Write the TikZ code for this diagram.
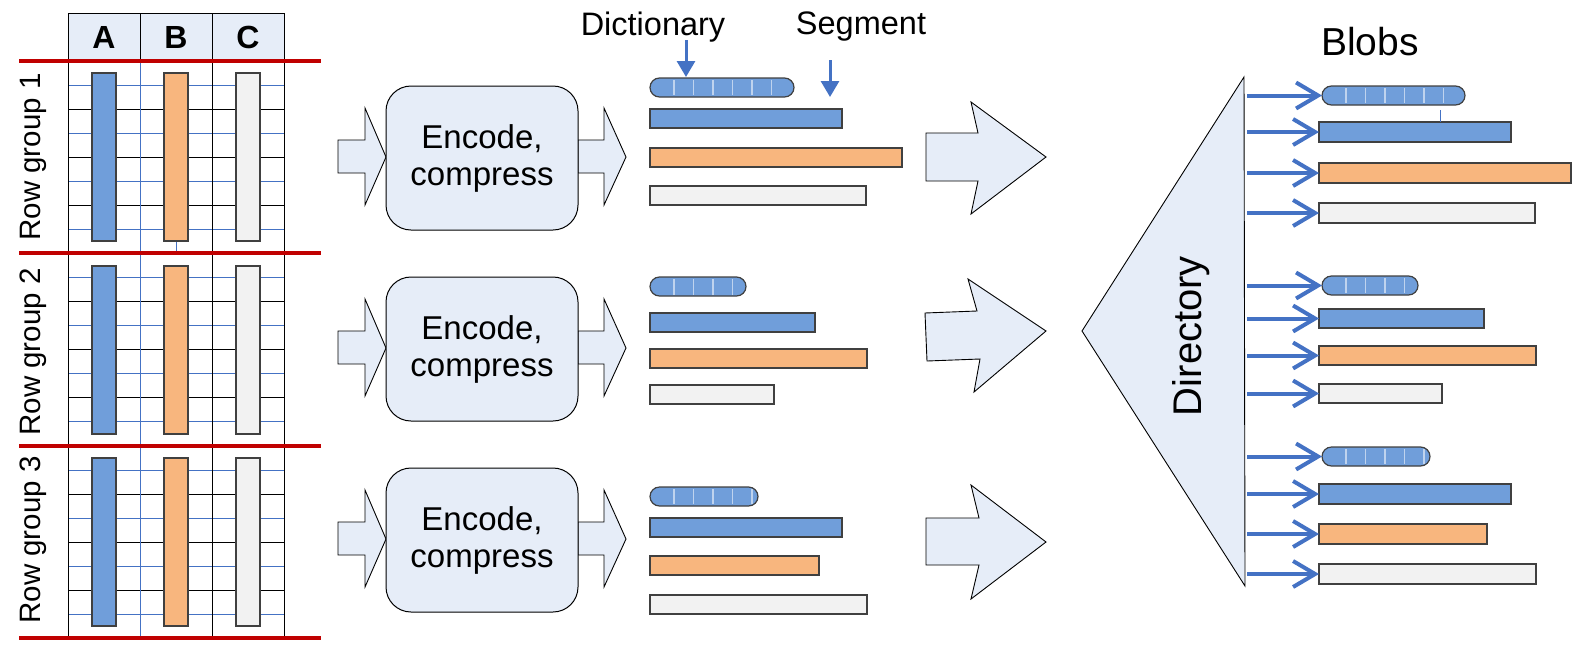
\documentclass[tikz,border=0pt]{standalone}
\usepackage{fontspec}
\setmainfont{Liberation Sans}
\usetikzlibrary{arrows.meta}
\definecolor{segblue}{RGB}{112,158,218}
\definecolor{segorange}{RGB}{248,182,126}
\definecolor{seggray}{RGB}{242,242,242}
\definecolor{paleblue}{RGB}{230,237,248}
\definecolor{gridblue}{RGB}{68,114,196}
\definecolor{rgred}{RGB}{192,0,0}
\tikzset{
    bar/.style = {rectangle, draw=black!75, line width=1.2pt, inner sep=0pt, outer sep=0pt, anchor=north west, minimum height=19pt},
    bara/.style = {bar, fill=segblue},
    barb/.style = {bar, fill=segorange},
    barc/.style = {bar, fill=seggray},
    pill/.style = {bar, fill=segblue, rounded corners=9.5pt},
    colbar/.style = {bar, minimum width=24pt, minimum height=168pt},
    hdcell/.style = {rectangle, draw=black, line width=1pt, fill=paleblue, minimum width=72pt, minimum height=48pt, inner sep=0pt, font=\fontsize{32}{34}\selectfont\bfseries},
    encbox/.style = {rectangle, rounded corners=25pt, draw=black, line width=1pt, fill=paleblue, minimum width=192pt, minimum height=144pt, align=center, font=\fontsize{33}{37}\selectfont},
    blockarr/.style = {draw=black, line width=0.9pt, fill=paleblue, line join=miter},
    gridk/.style = {black, line width=1pt},
    gridb/.style = {gridblue, line width=1pt},
    rgline/.style = {rgred, line width=4pt},
    rglabel/.style = {rotate=90, font=\fontsize{29.5}{32}\selectfont},
    ptr/.style = {gridblue, line width=3pt, -{Triangle[length=16pt,width=18pt]}},
    blobptr/.style = {gridblue, line width=4pt, -{Straight Barb[length=22pt,width=26pt]}},
    stripe/.style = {white!55!segblue, line width=1.6pt}
}
% light stripes of a dictionary pill: x0, top, bottom, count
\newcommand{\pillstripes}[4]{\foreach \k in {1,...,#4} {\draw[stripe] (#1+4.5+19.5*\k,#2+2) -- (#1+4.5+19.5*\k,#3-2);}}

\begin{document}
\begin{tikzpicture}[x=1pt,y=-1pt]
\useasboundingbox (0,0) rectangle (1579,654);
% table
\node[hdcell] at (104,37) (hA) {A};
\node[hdcell] at (176,37) (hB) {B};
\node[hdcell] at (248,37) (hC) {C};
\foreach \g in {61,253,446} {
  \foreach \r in {24,72,120,168} \draw[gridb] (68,\g+\r) -- (284,\g+\r);
  \foreach \r in {48,96,144} \draw[gridk] (68,\g+\r) -- (284,\g+\r);
}
\draw[gridk] (68,13) -- (68,638);
\draw[gridb] (140,61) -- (140,638);
\draw[gridk] (212,61) -- (212,638);
\draw[gridk] (284,61) -- (284,638);
\draw[gridb, line width=0.8pt] (176,241) -- (176,253);
%
\node[colbar, fill=segblue] at (92,73) (colA1) {};
\node[colbar, fill=segorange] at (164,73) (colB1) {};
\node[colbar, fill=seggray] at (236,73) (colC1) {};
\node[colbar, fill=segblue] at (92,266) (colA2) {};
\node[colbar, fill=segorange] at (164,266) (colB2) {};
\node[colbar, fill=seggray] at (236,266) (colC2) {};
\node[colbar, fill=segblue] at (92,458) (colA3) {};
\node[colbar, fill=segorange] at (164,458) (colB3) {};
\node[colbar, fill=seggray] at (236,458) (colC3) {};
%
\draw[rgline] (19,61) -- (321,61);
\draw[rgline] (19,253) -- (321,253);
\draw[rgline] (19,446) -- (321,446);
\draw[rgline] (19,638) -- (321,638);
\node[rglabel] at (33,157) (rg1) {Row group 1};
\node[rglabel] at (33,352) (rg2) {Row group 2};
\node[rglabel] at (33,540) (rg3) {Row group 3};
% encode, compress
\foreach \n/\dy in {1/0,2/191,3/382} {
  \draw[blockarr] (338,140+\dy) -- (365,140+\dy) -- (365,108+\dy) -- (386,157+\dy) -- (365,205+\dy) -- (365,173+\dy) -- (338,173+\dy) -- cycle;
  \draw[blockarr] (578,140+\dy) -- (604,140+\dy) -- (604,108+\dy) -- (626,157+\dy) -- (604,205+\dy) -- (604,173+\dy) -- (578,173+\dy) -- cycle;
  \node[encbox] at (482,158+\dy) (enc\n) {Encode,\\compress};
}
% segments
\node[font=\fontsize{32.5}{34}\selectfont] at (653,27) (dictlbl) {Dictionary};
\node[font=\fontsize{32.5}{34}\selectfont] at (861,27) (seglbl) {Segment};
\node[pill, minimum width=144pt] at (650,78) (d1) {};
\pillstripes{650}{78}{97}{6}
\node[bara, minimum width=192pt] at (650,109) (a1) {};
\node[barb, minimum width=252pt] at (650,148) (b1) {};
\node[barc, minimum width=216pt] at (650,186) (c1) {};
\node[pill, minimum width=96pt] at (650,277) (d2) {};
\pillstripes{650}{277}{297}{4}
\node[bara, minimum width=165pt] at (650,313) (a2) {};
\node[barb, minimum width=217pt] at (650,349) (b2) {};
\node[barc, minimum width=124pt] at (650,385) (c2) {};
\node[pill, minimum width=108pt] at (650,487) (d3) {};
\pillstripes{650}{487}{506}{5}
\node[bara, minimum width=192pt] at (650,518) (a3) {};
\node[barb, minimum width=169pt] at (650,556) (b3) {};
\node[barc, minimum width=217pt] at (650,595) (c3) {};
\coordinate (dictfrom) at (686,40);
\coordinate (dictto) at (686,77);
\coordinate (segfrom) at (830,60);
\coordinate (segto) at (830,97);
\draw[ptr] (dictfrom) -- (dictto);
\draw[ptr] (segfrom) -- (segto);
% to directory
\draw[blockarr] (926,133) -- (978,133) -- (971,102) -- (1046,157) -- (971,214) -- (978,181) -- (926,181) -- cycle;
\draw[blockarr] (925,313) -- (977,311) -- (968,279) -- (1046,331) -- (974,392) -- (980,359) -- (927,361) -- cycle;
\draw[blockarr] (926,518) -- (979,518) -- (971,485) -- (1046,542) -- (971,599) -- (979,565) -- (926,565) -- cycle;
\draw[blockarr] (1244,77) -- (1082,331) -- (1245,586) -- cycle;
\node[rotate=90, font=\fontsize{40}{44}\selectfont] at (1191,336) (dirlbl) {Directory};
% blobs
\node[font=\fontsize{39}{42}\selectfont] at (1370,42) (blobslbl) {Blobs};
\node[pill, minimum width=143pt] at (1322,86) (bd1) {};
\pillstripes{1322}{86}{105}{6}
\node[bara, minimum width=192pt, minimum height=20pt] at (1319,122) (ba1) {};
\node[barb, minimum width=252pt, minimum height=20pt] at (1319,163) (bb1) {};
\node[barc, minimum width=216pt, minimum height=20pt] at (1319,203) (bc1) {};
\node[pill, minimum width=96pt] at (1322,276) (bd2) {};
\pillstripes{1322}{276}{295}{4}
\node[bara, minimum width=165pt] at (1319,309) (ba2) {};
\node[barb, minimum width=217pt] at (1319,346) (bb2) {};
\node[barc, minimum width=123pt] at (1319,384) (bc2) {};
\node[pill, minimum width=108pt] at (1322,447) (bd3) {};
\pillstripes{1322}{447}{466}{5}
\node[bara, minimum width=192pt, minimum height=20pt] at (1319,484) (ba3) {};
\node[barb, minimum width=168pt, minimum height=20pt] at (1319,524) (bb3) {};
\node[barc, minimum width=217pt, minimum height=20pt] at (1319,564) (bc3) {};
\draw[gridb, line width=0.8pt] (1440,110) -- (1440,122);
\coordinate (dirR) at (1247,0);
\foreach \b in {bd1,ba1,bb1,bc1,bd2,ba2,bb2,bc2,bd3,ba3,bb3,bc3}
  \draw[blobptr] (dirR |- \b.west) -- (\b.west);
\end{tikzpicture}
\end{document}
